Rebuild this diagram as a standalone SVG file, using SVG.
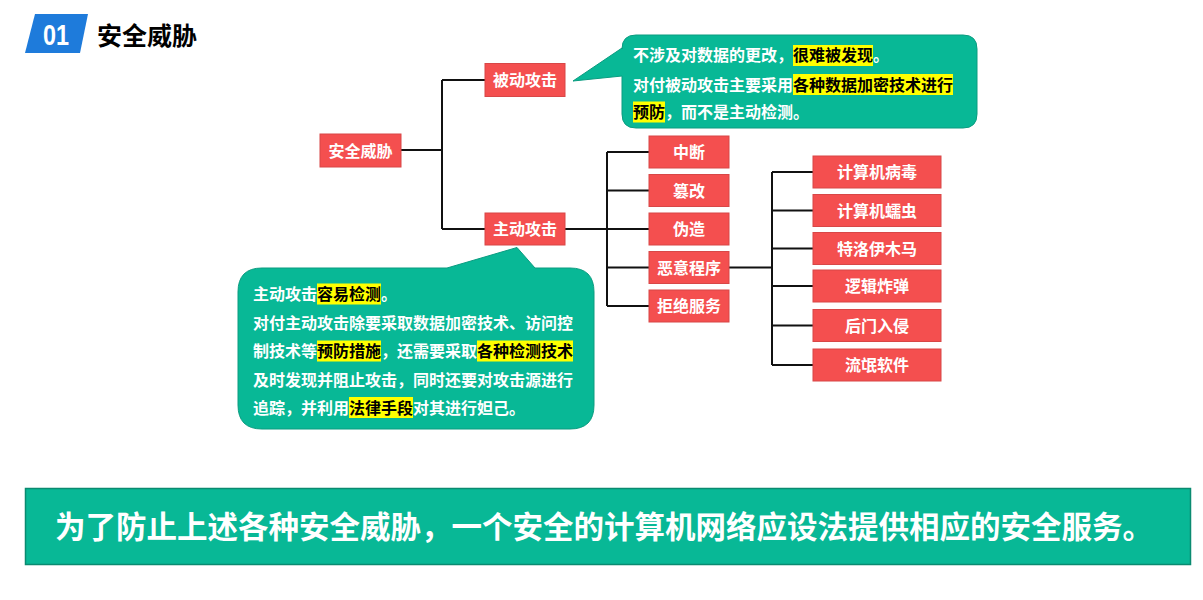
<svg xmlns="http://www.w3.org/2000/svg" width="1203" height="600" viewBox="0 0 1203 600">
<style>
.node rect{fill:#F44F4F;stroke:#D84747;stroke-width:1}
.node text{fill:#FFFFFF;font-family:"Noto Sans CJK SC","Noto Sans",sans-serif;font-weight:bold;font-size:16px;text-anchor:middle}
.conn{fill:none;stroke:#111111;stroke-width:2}
.bubble{fill:#08B896;stroke:#0A9C80;stroke-width:1}
.ct{fill:#FFFFFF;font-family:"Noto Sans CJK SC","Noto Sans",sans-serif;font-weight:bold;font-size:16px}
.hl{fill:#FFFF00}
.hk{fill:#000000}
</style>
<rect width="1203" height="600" fill="#FFFFFF"/>
<g id="title">
<polygon points="35,14 88,14 80,53 25,53" fill="#1E7BDB"/>
<text x="56" y="45" fill="#FFFFFF" font-family="Liberation Sans,Arial,sans-serif" font-weight="bold" font-size="30" text-anchor="middle" textLength="26" lengthAdjust="spacingAndGlyphs">01</text>
<text x="97" y="44.5" fill="#000000" font-family="Noto Sans CJK SC,sans-serif" font-weight="bold" font-size="25">安全威胁</text>
</g>
<g id="connectors">
<path class="conn" d="M401,150 H442 M442,80 V229 M442,80 H485 M442,229 H485"/>
<path class="conn" d="M565,229 H607 M607,152 V306 M607,152 H649 M607,190.5 H649 M607,229 H649 M607,267.5 H649 M607,306 H649"/>
<path class="conn" d="M729,267.5 H772 M772,172 V365 M772,172 H813 M772,210.5 H813 M772,248.5 H813 M772,286 H813 M772,325.5 H813 M772,365 H813"/>
</g>
<g id="n-root" class="node"><rect x="320" y="134" width="81" height="33"/><text x="360.5" y="156.5">安全威胁</text></g>
<g id="n-passive" class="node"><rect x="485" y="63.5" width="80" height="33"/><text x="525" y="86">被动攻击</text></g>
<g id="n-active" class="node"><rect x="485" y="213" width="80" height="32"/><text x="525" y="235">主动攻击</text></g>
<g id="n-zd" class="node"><rect x="649" y="136" width="80" height="32"/><text x="689" y="158">中断</text></g>
<g id="n-cg" class="node"><rect x="649" y="174.5" width="80" height="32"/><text x="689" y="196.5">篡改</text></g>
<g id="n-wz" class="node"><rect x="649" y="213" width="80" height="32"/><text x="689" y="235">伪造</text></g>
<g id="n-ey" class="node"><rect x="649" y="251.5" width="80" height="32"/><text x="689" y="273.5">恶意程序</text></g>
<g id="n-jj" class="node"><rect x="649" y="290" width="80" height="32"/><text x="689" y="312">拒绝服务</text></g>
<g id="n-bd" class="node"><rect x="813" y="156" width="128" height="32"/><text x="877" y="178">计算机病毒</text></g>
<g id="n-rc" class="node"><rect x="813" y="194.5" width="128" height="32"/><text x="877" y="216.5">计算机蠕虫</text></g>
<g id="n-mm" class="node"><rect x="813" y="232.5" width="128" height="32"/><text x="877" y="254.5">特洛伊木马</text></g>
<g id="n-zd2" class="node"><rect x="813" y="270" width="128" height="32"/><text x="877" y="292">逻辑炸弹</text></g>
<g id="n-hm" class="node"><rect x="813" y="309.5" width="128" height="32"/><text x="877" y="331.5">后门入侵</text></g>
<g id="n-lm" class="node"><rect x="813" y="349" width="128" height="32"/><text x="877" y="371">流氓软件</text></g>
<g id="callout-passive">
<path class="bubble" d="M636,35 H963 Q977,35 977,49 V114 Q977,128 963,128 H636 Q622,128 622,114 V76 L573,81 L622,48 V49 Q622,35 636,35 Z"/>
<rect class="hl" x="793" y="45" width="80" height="21"/>
<rect class="hl" x="793" y="74" width="160" height="21"/>
<rect class="hl" x="633" y="101.5" width="32" height="21"/>
<text class="ct" x="633" y="61">不涉及对数据的更改，<tspan class="hk">很难被发现</tspan>。</text>
<text class="ct" x="633" y="90.5">对付被动攻击主要采用<tspan class="hk">各种数据加密技术进行</tspan></text>
<text class="ct" x="633" y="118"><tspan class="hk">预防</tspan>，而不是主动检测。</text>
</g>
<g id="callout-active">
<path class="bubble" d="M262,268 H447 L517,247.5 L535,268 H570 Q594,268 594,292 V405 Q594,429 570,429 H262 Q238,429 238,405 V292 Q238,268 262,268 Z"/>
<rect class="hl" x="317" y="283.5" width="64" height="21"/>
<rect class="hl" x="317" y="340.5" width="64" height="21"/>
<rect class="hl" x="477" y="340.5" width="96" height="21"/>
<rect class="hl" x="349" y="397" width="64" height="21"/>
<text class="ct" x="253" y="300">主动攻击<tspan class="hk">容易检测</tspan>。</text>
<text class="ct" x="253" y="328.5">对付主动攻击除要采取数据加密技术、访问控</text>
<text class="ct" x="253" y="357">制技术等<tspan class="hk">预防措施</tspan>，还需要采取<tspan class="hk">各种检测技术</tspan></text>
<text class="ct" x="253" y="385.5">及时发现并阻止攻击，同时还要对攻击源进行</text>
<text class="ct" x="253" y="413.5">追踪，并利用<tspan class="hk">法律手段</tspan>对其进行妲己。</text>
</g>
<g id="banner">
<rect x="25.5" y="488.5" width="1165" height="76" fill="#08B896" stroke="#0A8A70" stroke-width="1.5"/>
<text x="55" y="538" fill="#FFFFFF" font-family="Noto Sans CJK SC,sans-serif" font-weight="bold" font-size="30.5">为了防止上述各种安全威胁，一个安全的计算机网络应设法提供相应的安全服务。</text>
</g>
</svg>
